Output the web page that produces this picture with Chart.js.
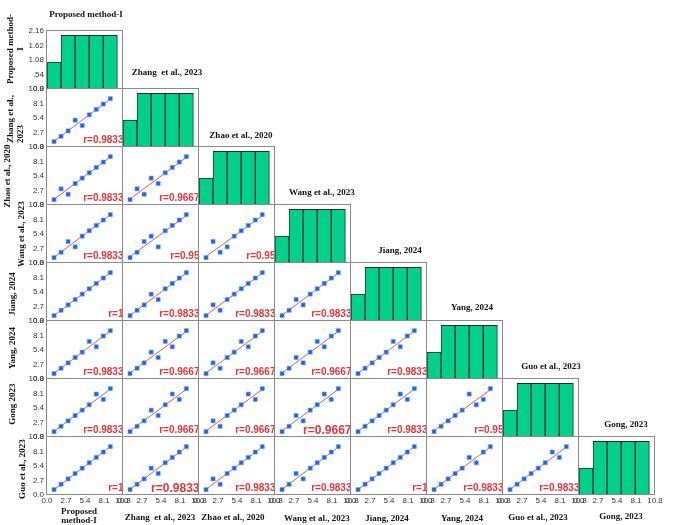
<!DOCTYPE html>
<html>
<head>
<meta charset="utf-8">
<script src="https://cdn.jsdelivr.net/npm/chart.js@4.4.1/dist/chart.umd.min.js"></script>
<style>
  html, body { margin: 0; padding: 0; background: #fff; }
  #stage { position: relative; width: 685px; height: 525px; overflow: hidden; background: #fff; }
  #stage canvas { position: absolute; }
  .lbl { position: absolute; font: bold 9px "Liberation Serif", "Times New Roman", serif; color: #111; white-space: pre; line-height: 9px; }
  .rot { transform: translate(-50%, -50%) rotate(-90deg); }
  .ctr { transform: translate(-50%, -50%); text-align: center; }
  .rlab { position: absolute; font: bold 10px "Liberation Sans", Arial, sans-serif; color: #e2383c; line-height: 10px; white-space: nowrap; transform: translateX(-100%); }
  .rlab.big { font-size: 12px; line-height: 12px; }
</style>
</head>
<body>
<div id="stage"></div>
<script>
// methods (diagonal titles), left row labels and bottom axis titles
const methods = ['Proposed method-I', 'Zhang  et al., 2023', 'Zhao et al., 2020', 'Wang et al., 2023', 'Jiang, 2024', 'Yang, 2024', 'Guo et al., 2023', 'Gong, 2023'];
const rowLabels = ['Proposed method-\nI', 'Zhang et al.,\n2023', 'Zhao et al., 2020', 'Wang et al., 2023', 'Jiang, 2024', 'Yang, 2024', 'Gong 2023', 'Guo et al., 2023'];
const colLabels = ['Proposed\nmethod-I', 'Zhang  et al., 2023', 'Zhao et al., 2020', 'Wang et al., 2023', 'Jiang, 2024', 'Yang, 2024', 'Guo et al., 2023', 'Gong, 2023'];

// rank of each of the 9 items under each method
const proposedRanks = [1, 2, 3, 4, 5, 6, 7, 8, 9];
const zhangRanks    = [1, 2, 3, 5, 4, 6, 7, 8, 9];
const zhaoRanks     = [1, 3, 2, 4, 5, 6, 7, 8, 9];
const wangRanks     = [1, 2, 4, 3, 5, 6, 7, 8, 9];
const jiangRanks    = [1, 2, 3, 4, 5, 6, 7, 8, 9];
const yangRanks     = [1, 2, 3, 4, 5, 7, 6, 8, 9];
const guoRanks      = [1, 2, 3, 4, 5, 6, 8, 7, 9];
const gongRanks     = [1, 2, 3, 4, 5, 6, 7, 8, 9];
const series = [proposedRanks, zhangRanks, zhaoRanks, wangRanks, jiangRanks, yangRanks, guoRanks, gongRanks];

// axis ticks
const rankTicks = [0, 2.7, 5.4, 8.1, 10.8];
const rankTickLabels = ['0.0', '2.7', '5.4', '8.1', '10.8'];
const countTicks = [0, 0.54, 1.08, 1.62, 2.16];
const countTickLabels = ['0.0', '.54', '1.08', '1.62', '2.16'];
const binEdges = [0, 2, 4, 6, 8, 10];

// layout
const X0 = 46.5, CW = 76.1, Y0 = 30.7, RH = 58;
const PAD = 12, AXL = 47, AXB = 30;
const colX = i => Math.round(X0 + CW * i);
const rowY = i => Math.round(Y0 + RH * i);
const bigR = ['7,1', '6,3'];
const titlePos = [[86, 14], [167, 72], [241, 135], [322, 192], [400, 250], [472, 307], [551, 366], [626, 424]];
const rowLabelPos = [[14.5, 49], [15, 119], [7, 176], [21, 234], [12, 294], [12, 348], [12, 404], [22, 469]];
const colLabelPos = [[79, 516], [160, 517], [233, 517], [317, 518], [387, 518], [462, 518], [538, 517], [621, 516]];

const stage = document.getElementById('stage');
const GREEN = '#00d08a';

const framePlugin = {
    id: 'frame',
    afterDraw(chart) {
        const a = chart.chartArea, ctx = chart.ctx;
        ctx.save();
        ctx.strokeStyle = '#8a8a8a';
        ctx.lineWidth = 1;
        ctx.strokeRect(a.left - 0.5, a.top - 0.5, a.right - a.left, a.bottom - a.top);
        ctx.restore();
    }
};

function axis(show, horizontal, size, max, ticks, labels) {
    return {
        type: 'linear', min: 0, max: max, display: show, offset: false,
        grid: { display: false, drawTicks: false },
        border: { display: false },
        afterBuildTicks: s => { s.ticks = ticks.map(v => ({ value: v })); },
        afterFit: s => {
            if (!show) return;
            if (horizontal) s.height = size; else s.width = size;
            s.paddingLeft = s.paddingRight = s.paddingTop = s.paddingBottom = 0;
        },
        ticks: {
            autoSkip: false, maxRotation: 0, padding: horizontal ? 1 : 3, color: '#333',
            font: { family: '"Liberation Sans", Arial, sans-serif', size: 8 },
            callback: (v, i) => labels[i]
        }
    };
}

function fit(xs, ys) {
    const n = xs.length;
    const mx = xs.reduce((s, v) => s + v, 0) / n;
    const my = ys.reduce((s, v) => s + v, 0) / n;
    let sxx = 0, syy = 0, sxy = 0;
    for (let i = 0; i < n; i++) {
        sxx += (xs[i] - mx) ** 2;
        syy += (ys[i] - my) ** 2;
        sxy += (xs[i] - mx) * (ys[i] - my);
    }
    const b = sxy / sxx;
    return { a: my - b * mx, b: b, r: sxy / Math.sqrt(sxx * syy) };
}

function addText(cls, text, x, y) {
    const d = document.createElement('div');
    d.className = cls;
    d.textContent = text;
    d.style.left = x + 'px';
    d.style.top = y + 'px';
    stage.appendChild(d);
    return d;
}

function panel(r, c) {
    const left = colX(c), top = rowY(r);
    const w = colX(c + 1) - left, h = rowY(r + 1) - top;
    const firstCol = c === 0, lastRow = r === 7;
    const cv = document.createElement('canvas');
    cv.width = w + 2 * PAD + (firstCol ? AXL : 0);
    cv.height = h + 2 * PAD + (lastRow ? AXB : 0);
    cv.style.left = (left - PAD - (firstCol ? AXL : 0)) + 'px';
    cv.style.top = (top - PAD) + 'px';
    stage.appendChild(cv);

    const base = {
        animation: false, responsive: false, events: [],
        layout: { padding: PAD },
        plugins: { legend: { display: false }, tooltip: { enabled: false } }
    };

    if (r === c) {
        // histogram of the method's ranks
        const vals = series[c];
        const bars = [];
        for (let k = 0; k < binEdges.length - 1; k++) {
            const cnt = vals.filter(v => v >= binEdges[k] && v < binEdges[k + 1]).length;
            bars.push({ x: (binEdges[k] + binEdges[k + 1]) / 2, y: cnt });
        }
        new Chart(cv, {
            type: 'bar',
            data: { datasets: [{ data: bars, backgroundColor: GREEN, borderColor: '#2a2a2a', borderWidth: 1, barPercentage: 1, categoryPercentage: 1 }] },
            options: Object.assign(base, {
                scales: {
                    x: axis(lastRow, true, AXB, 10.8, rankTicks, rankTickLabels),
                    y: axis(firstCol, false, AXL, 2.16, countTicks, countTickLabels)
                }
            }),
            plugins: [framePlugin]
        });
        return;
    }

    const xs = series[c], ys = series[r];
    const f = fit(xs, ys);
    const x1 = Math.min(...xs), x2 = Math.max(...xs);
    new Chart(cv, {
        type: 'scatter',
        data: {
            datasets: [
                { data: xs.map((x, i) => ({ x: x, y: ys[i] })), pointStyle: 'rect', pointRadius: 2.9, backgroundColor: '#1d63e6', borderColor: '#6ea2f2', borderWidth: 0.6 },
                { type: 'line', data: [{ x: x1, y: f.a + f.b * x1 }, { x: x2, y: f.a + f.b * x2 }], borderColor: '#ea5a52', borderWidth: 1, pointRadius: 0 }
            ]
        },
        options: Object.assign(base, {
            scales: {
                x: axis(lastRow, true, AXB, 10.8, rankTicks, rankTickLabels),
                y: axis(firstCol, false, AXL, 10.8, rankTicks, rankTickLabels)
            }
        }),
        plugins: [framePlugin]
    });

    const big = bigR.includes(r + ',' + c);
    const lab = addText('rlab' + (big ? ' big' : ''), 'r=' + String(+f.r.toFixed(4)), colX(c + 1) + 0.5, rowY(r + 1) - (big ? 13 : 12));
}

for (let r = 0; r < 8; r++) {
    for (let c = 0; c <= r; c++) panel(r, c);
}

methods.forEach((m, i) => addText('lbl ctr', m, titlePos[i][0], titlePos[i][1]));
rowLabels.forEach((m, i) => {
    const d = addText('lbl rot', m, rowLabelPos[i][0], rowLabelPos[i][1]);
    d.style.textAlign = i === 0 ? 'center' : 'left';
    d.style.lineHeight = '10px';
});
colLabels.forEach((m, i) => addText('lbl ctr', m, colLabelPos[i][0], colLabelPos[i][1]));
</script>
</body>
</html>
